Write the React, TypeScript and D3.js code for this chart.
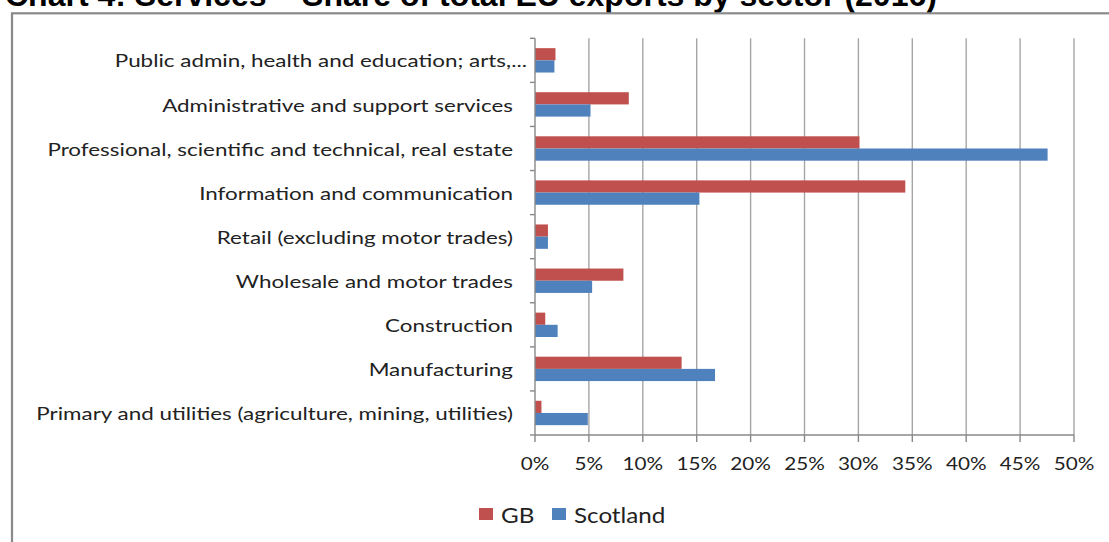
import React from 'react';
import * as d3 from 'd3';

// Sectors, top to bottom as drawn
const sectors = [
    'Public admin, health and education; arts,...',
    'Administrative and support services',
    'Professional, scientific and technical, real estate',
    'Information and communication',
    'Retail (excluding motor trades)',
    'Wholesale and motor trades',
    'Construction',
    'Manufacturing',
    'Primary and utilities (agriculture, mining, utilities)',
];

// Share of total EU exports, %
const gbShare = [1.9, 8.7, 30.1, 34.35, 1.2, 8.2, 0.95, 13.6, 0.6];
const scotlandShare = [1.8, 5.15, 47.55, 15.25, 1.2, 5.3, 2.1, 16.7, 4.9];

const seriesNames = ['GB', 'Scotland'];
const xTicks = [0, 5, 10, 15, 20, 25, 30, 35, 40, 45, 50];

const title = 'Chart 4: Services \u2013 Share of total EU exports by sector (2016)';

const W = 1109;
const H = 542;
const margin = { top: 38.3, right: 35, bottom: 107, left: 535 };
const colors: Record<string, string> = { GB: '#C0504D', Scotland: '#4F81BD' };
const labelFont = 'Lato, "Open Sans", sans-serif';

// the source text is a wide, stretched Calibri; Lato squeezed out to match
const Stretched: React.FC<{ x: number; y: number; sx: number; anchor: string; size: number; children: React.ReactNode }> =
    ({ x, y, sx, anchor, size, children }) => (
        <text transform={`translate(${x},${y}) scale(${sx},1)`} textAnchor={anchor}
            dominantBaseline="central" fontFamily={labelFont} fontSize={size} fill="#222">
            {children}
        </text>
    );

export default function App() {
    const x = d3.scaleLinear()
        .domain([0, 50])
        .range([margin.left, W - margin.right]);

    const y = d3.scaleBand<string>()
        .domain(sectors)
        .range([margin.top, H - margin.bottom])
        .paddingInner(0.447)
        .paddingOuter(0.2235);

    const ySeries = d3.scaleBand<string>()
        .domain(seriesNames)
        .range([0, y.bandwidth()]);

    const values: Record<string, number[]> = { GB: gbShare, Scotland: scotlandShare };
    const step = y.step();
    const gap = step * y.paddingInner() / 2;
    const plotBottom = H - margin.bottom;

    // category boundary ticks on the vertical axis
    const boundaries = sectors.map(s => (y(s) as number) - gap).concat([plotBottom]);

    return (
        <svg width={W} height={H} style={{ position: 'absolute', left: 0, top: 0, background: '#fff' }}>
            <text x={5} y={6} fontFamily='"Liberation Sans", Arial, sans-serif' fontWeight="bold"
                fontSize={32} fill="#000">{title}</text>

            {/* chart area frame, runs past the right and bottom edges */}
            <rect x={12} y={13.3} width={W + 20} height={H + 20} fill="none" stroke="#8a8a8a" strokeWidth={2.2} />

            {/* gridlines */}
            {xTicks.slice(1).map(t => (
                <line key={t} x1={x(t)} x2={x(t)} y1={margin.top} y2={plotBottom}
                    stroke="#a6a6a6" strokeWidth={1.4} />
            ))}

            {/* bars */}
            {sectors.map((s, i) => (
                <g key={s} transform={`translate(0,${y(s)})`}>
                    {seriesNames.map(name => (
                        <rect key={name}
                            x={x(0)}
                            y={ySeries(name)}
                            width={x(values[name][i]) - x(0)}
                            height={ySeries.bandwidth()}
                            fill={colors[name]} />
                    ))}
                </g>
            ))}

            {/* vertical axis */}
            <line x1={x(0)} x2={x(0)} y1={margin.top} y2={plotBottom} stroke="#888" strokeWidth={1.4} />
            {boundaries.map((b, i) => (
                <line key={i} x1={x(0) - 5} x2={x(0)} y1={b} y2={b} stroke="#888" strokeWidth={1.4} />
            ))}
            {sectors.map((s, i) => (
                <Stretched key={s} x={x(0) - (i === 0 ? 8 : 22)} y={(y(s) as number) + y.bandwidth() / 2}
                    sx={1.245} anchor="end" size={18}>{s}</Stretched>
            ))}

            {/* horizontal axis */}
            <line x1={x(0)} x2={x(50)} y1={plotBottom} y2={plotBottom} stroke="#888" strokeWidth={1.4} />
            {xTicks.map(t => (
                <g key={t}>
                    <line x1={x(t)} x2={x(t)} y1={plotBottom} y2={plotBottom + 7} stroke="#888" strokeWidth={1.4} />
                    <Stretched x={x(t)} y={plotBottom + 28} sx={1.15} anchor="middle" size={18}>{t}%</Stretched>
                </g>
            ))}

            {/* legend */}
            <g transform="translate(479,508)">
                {seriesNames.map((name, i) => {
                    const offset = i === 0 ? 0 : 73;
                    return (
                        <g key={name} transform={`translate(${offset},0)`}>
                            <rect x={0} y={0} width={14} height={12} fill={colors[name]} />
                            <Stretched x={22} y={6} sx={1.1} anchor="start" size={22}>{name}</Stretched>
                        </g>
                    );
                })}
            </g>
        </svg>
    );
}
